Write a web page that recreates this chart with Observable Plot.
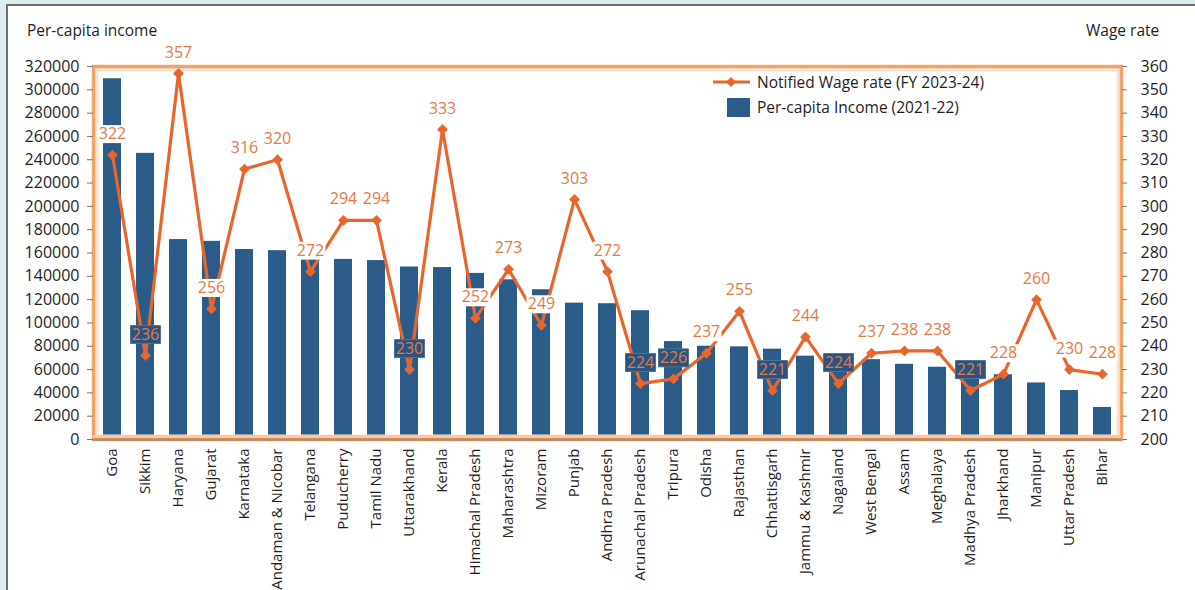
<!DOCTYPE html>
<html>
<head>
<meta charset="utf-8">
<script src="https://cdn.jsdelivr.net/npm/d3@7"></script>
<script src="https://cdn.jsdelivr.net/npm/@observablehq/plot@0.6"></script>
<style>
  html, body { margin: 0; padding: 0; width: 1195px; height: 590px; overflow: hidden; background: #dcedf2; font-family: "Open Sans", sans-serif; }
  #panel { position: absolute; left: 6px; top: 4px; width: 1200px; height: 600px; background: #fff; border-left: 2px solid #6e6e6e; border-top: 2px solid #6e6e6e; }
  #chart { position: absolute; left: 0; top: 0; }
  .t { position: absolute; font-size: 15.5px; line-height: 20px; color: #1e1e1e; white-space: nowrap; }
  .icon { position: absolute; }
</style>
</head>
<body>
<div id="panel"></div>
<div id="chart"></div>
<div class="t" style="left:27px;top:20px;">Per-capita income</div>
<div class="t" style="left:1086px;top:20px;">Wage rate</div>
<svg class="icon" style="left:712px;top:72px;" width="40" height="20">
  <line x1="1" y1="10" x2="38" y2="10" stroke="#e8652c" stroke-width="3"/>
  <rect x="15.5" y="6.5" width="7" height="7" fill="#e8652c" transform="rotate(45 19 10)"/>
</svg>
<div class="t" style="left:757px;top:72px;">Notified Wage rate (FY 2023-24)</div>
<div class="icon" style="left:727px;top:98px;width:23px;height:19px;background:#2b5b88;"></div>
<div class="t" style="left:757px;top:97px;">Per-capita Income (2021-22)</div>
<script>
const states = ["Goa","Sikkim","Haryana","Gujarat","Karnataka","Andaman & Nicobar","Telangana","Puducherry","Tamil Nadu","Uttarakhand","Kerala","Himachal Pradesh","Maharashtra","Mizoram","Punjab","Andhra Pradesh","Arunachal Pradesh","Tripura","Odisha","Rajasthan","Chhattisgarh","Jammu & Kashmir","Nagaland","West Bengal","Assam","Meghalaya","Madhya Pradesh","Jharkhand","Manipur","Uttar Pradesh","Bihar"];
const income = [309500, 245500, 171500, 170000, 163000, 162000, 156000, 154500, 153500, 148000, 147500, 142500, 137000, 128500, 117000, 116500, 110500, 84000, 80000, 79500, 77500, 71500, 70000, 68500, 64500, 62000, 59000, 55500, 48500, 42000, 27500];
const wage = [322, 236, 357, 256, 316, 320, 272, 294, 294, 230, 333, 252, 273, 249, 303, 272, 224, 226, 237, 255, 221, 244, 224, 237, 238, 238, 221, 228, 260, 230, 228];
const incomeTicks = [0, 20000, 40000, 60000, 80000, 100000, 120000, 140000, 160000, 180000, 200000, 220000, 240000, 260000, 280000, 300000, 320000];
const wageTicks = [200, 210, 220, 230, 240, 250, 260, 270, 280, 290, 300, 310, 320, 330, 340, 350, 360];

// secondary (wage) axis mapped onto the income axis: 200..360 -> 0..320000
const W0 = wageTicks[0];
const K = incomeTicks[incomeTicks.length - 1] / (wageTicks[wageTicks.length - 1] - W0);
const toY = w => (w - W0) * K;

const data = states.map((s, i) => ({ state: s, income: income[i], wage: wage[i], wy: toY(wage[i]) }));
// labels that sit over a bar with a low wage get a dark box, as in the original
data.forEach(d => { d.dark = d.wage < 240 && d.income > d.wy + 12000; });

const boxSym = { draw(ctx) { ctx.moveTo(-15, -9); ctx.lineTo(15, -9); ctx.lineTo(15, 9); ctx.lineTo(-15, 9); ctx.closePath(); } };

const ORANGE = "#e8652c";
const BLUE = "#2b5b88";

const chart = Plot.plot({
  width: 1195,
  height: 590,
  marginTop: 66,
  marginBottom: 151,
  marginLeft: 93,
  marginRight: 74,
  style: { fontFamily: "Open Sans, sans-serif", fontSize: "15px", color: "#1e1e1e", background: "transparent" },
  x: { domain: states, paddingInner: 0.46, paddingOuter: 0.23, label: null },
  y: { domain: [0, incomeTicks[incomeTicks.length - 1]], label: null },
  marks: [
    Plot.barY(data, { x: "state", y: "income", fill: BLUE }),
    Plot.frame({ stroke: "#fbe3cf", strokeWidth: 4, inset: 3 }),
    Plot.frame({ stroke: "#f2a36a", strokeWidth: 3.5 }),
    Plot.ruleY([0], { stroke: "#f7c9a4", strokeWidth: 3, dy: -3 }),
    Plot.ruleY([0], { stroke: "#bf8a62", strokeWidth: 2.5 }),
    Plot.axisY(incomeTicks, { anchor: "left", tickFormat: d3.format("d"), tickSize: 6, tickPadding: 8, stroke: "#777", label: null, fontSize: 16 }),
    Plot.axisY(wageTicks.map(toY), { anchor: "right", tickFormat: d => Math.round(d / K + W0), tickSize: 5, tickPadding: 14, stroke: "#777", label: null, fontSize: 16 }),
    Plot.axisX({ tickRotate: -90, tickSize: 0, tickPadding: 9, label: null, fontSize: 15 }),
    Plot.line(data, { x: "state", y: "wy", stroke: ORANGE, strokeWidth: 3.2 }),
    Plot.dot(data, { x: "state", y: "wy", symbol: "square", rotate: 45, r: 4.3, fill: ORANGE }),
    Plot.dot(data.filter(d => !d.dark), { x: "state", y: "wy", dy: -21, symbol: boxSym, fill: "white" }),
    Plot.dot(data.filter(d => d.dark), { x: "state", y: "wy", dy: -21, symbol: boxSym, fill: "#2a5480", stroke: "#4d7399", strokeWidth: 1 }),
    Plot.text(data, { x: "state", y: "wy", dy: -21, text: d => String(d.wage), fill: "#e27a45", fontSize: 16 })
  ]
});
document.getElementById("chart").appendChild(chart);
</script>
</body>
</html>
